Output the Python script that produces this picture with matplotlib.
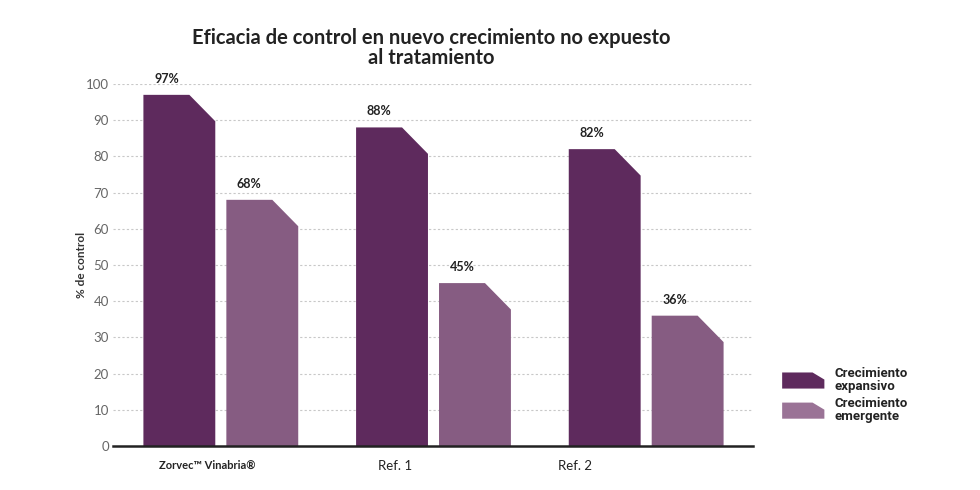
import matplotlib.pyplot as plt
from matplotlib.patches import Polygon
from matplotlib.legend_handler import HandlerPatch

groups = ["Zorvec\u2122 Vinabria\u00ae", "Ref. 1", "Ref. 2"]
expansivo = [97, 88, 82]
emergente = [68, 45, 36]
series_names = ["Crecimiento\nexpansivo", "Crecimiento\nemergente"]
yticks = [0, 10, 20, 30, 40, 50, 60, 70, 80, 90, 100]

dark = "#5e2a5d"
light = "#865c82"

bar_w = 0.338
offset = 0.195
cut_w = 0.122   # chamfer width (data x)
cut_h = 7.3     # chamfer height (data y)


def chamfer_bar(ax, xc, h, color):
    x0 = xc - bar_w / 2
    x1 = xc + bar_w / 2
    pts = [(x0, 0), (x0, h), (x1 - cut_w, h), (x1, h - cut_h), (x1, 0)]
    ax.add_patch(Polygon(pts, closed=True, facecolor=color, edgecolor="none", zorder=3))
    ax.text(x0 + (bar_w - cut_w) / 2, h + 2.8, f"{h}%", ha="center", va="bottom",
            fontsize=9, fontweight="bold", color="#222222", family="Lato")


fig = plt.figure(figsize=(9.8, 4.9), dpi=100)
ax = fig.add_axes([0.1153, 0.0898, 0.653, 0.7388])

for i in range(len(groups)):
    chamfer_bar(ax, i - offset, expansivo[i], dark)
    chamfer_bar(ax, i + offset, emergente[i], light)

ax.set_xlim(-0.507, 2.502)
ax.set_ylim(0, 100)
ax.set_yticks(yticks)
ax.set_yticklabels([str(t) for t in yticks], color="#666666", fontsize=9.5, family="Lato")
ax.tick_params(axis="y", length=0, pad=3)
ax.tick_params(axis="x", length=0, pad=10)
ax.set_xticks([-0.066, 0.817, 1.667])
ax.set_xticklabels(groups, fontsize=9.5, color="#222222", family="Lato")
ax.get_xticklabels()[0].set_fontweight("bold")
ax.get_xticklabels()[0].set_fontsize(8)

for t in yticks[1:]:
    ax.axhline(t, color="#c8c8c8", lw=0.8, ls=(0, (2, 2)), zorder=1)

for s in ["top", "right", "left"]:
    ax.spines[s].set_visible(False)
ax.spines["bottom"].set_linewidth(1.8)
ax.spines["bottom"].set_color("#222222")
ax.spines["bottom"].set_zorder(4)

ax.set_ylabel("% de control", fontsize=8.5, fontweight="bold", color="#333333",
              family="Lato", labelpad=-1)

fig.text(0.44, 0.903, "Eficacia de control en nuevo crecimiento no expuesto\nal tratamiento",
         ha="center", va="center", fontsize=14.5, fontweight="bold", color="#222222",
         family="Lato", linespacing=1.0)


def legend_patch(legend, orig_handle, xdescent, ydescent, width, height, fontsize):
    x0, y0 = -xdescent, -ydescent
    x1, y1 = x0 + width, y0 + height
    c = width * 0.28
    return Polygon([(x0, y0), (x0, y1), (x1 - c, y1), (x1, y1 - c * 0.6), (x1, y0)], closed=True)


handles = [Polygon([(0, 0)], facecolor=dark), Polygon([(0, 0)], facecolor="#9a7396")]
leg = fig.legend(handles, series_names, loc="upper left", bbox_to_anchor=(0.786, 0.275),
                 frameon=False, handlelength=3.2, handleheight=1.5, handletextpad=0.8,
                 labelspacing=0.35, handler_map={Polygon: HandlerPatch(patch_func=legend_patch)},
                 prop={"family": ["Roboto", "DejaVu Sans"], "weight": "bold", "size": 9.5})
for t in leg.get_texts():
    t.set_linespacing(0.95)
    t.set_color("#222222")

fig.savefig("out.png", dpi=100, facecolor="white")
